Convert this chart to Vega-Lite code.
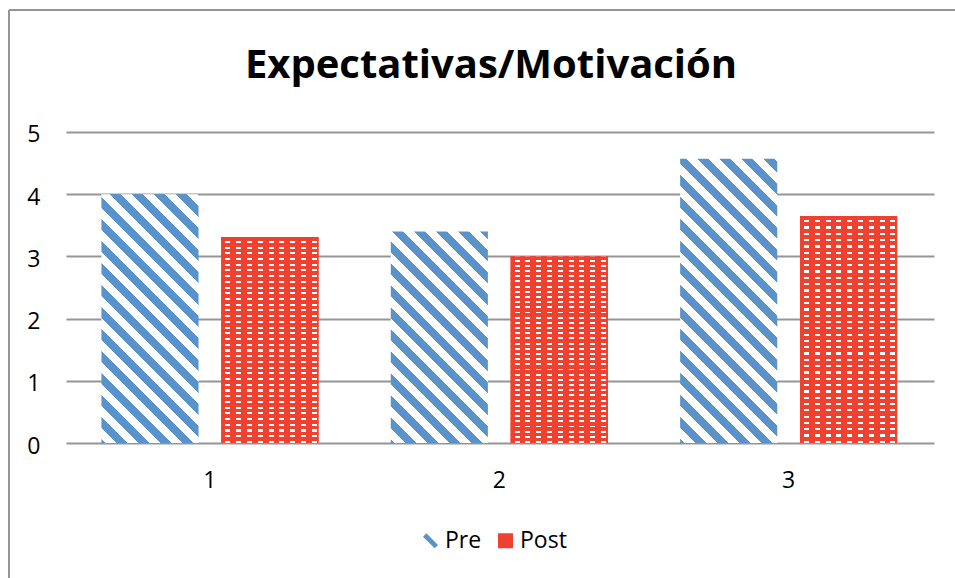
{
  "$schema": "https://vega.github.io/schema/vega-lite/v6.json",
  "autosize": {"type": "none"},
  "padding": {"left": 9, "top": 10, "right": 0, "bottom": 0},
  "width": 946,
  "height": 568,
  "background": "#FFFFFF",
  "config": {
    "font": "Open Sans",
    "view": {"stroke": "#959595", "strokeWidth": 2, "strokeDash": [946, 1514, 568, 0]}
  },
  "title": {
    "text": "Expectativas/Motivación",
    "font": "Open Sans",
    "fontSize": 40,
    "fontWeight": "bold",
    "color": "#000000",
    "anchor": "middle",
    "frame": "group",
    "baseline": "alphabetic",
    "offset": -108,
    "dx": 9
  },
  "data": {
    "values": [
      {"cat": "1", "series": "Pre", "value": 4.0},
      {"cat": "1", "series": "Post", "value": 3.31},
      {"cat": "2", "series": "Pre", "value": 3.4},
      {"cat": "2", "series": "Post", "value": 3.0},
      {"cat": "3", "series": "Pre", "value": 4.57},
      {"cat": "3", "series": "Post", "value": 3.65}
    ]
  },
  "encoding": {
    "x": {
      "field": "cat",
      "type": "nominal",
      "scale": {"paddingInner": 0.25, "paddingOuter": 0.2597, "align": 0.615},
      "axis": {
        "orient": "bottom",
        "offset": -135,
        "domain": false,
        "ticks": false,
        "grid": false,
        "labelPadding": 26,
        "labelFont": "Open Sans",
        "labelFontSize": 23,
        "labelColor": "#000000",
        "labelAngle": 0,
        "title": null
      }
    },
    "xOffset": {
      "field": "series",
      "type": "nominal",
      "sort": ["Pre", "Post"],
      "scale": {"domain": ["Pre", "Post"], "paddingInner": 0.19, "paddingOuter": 0}
    },
    "y": {
      "field": "value",
      "type": "quantitative",
      "scale": {"domain": [-2.1704, 6.9614], "nice": false, "zero": false},
      "axis": {
        "orient": "left",
        "offset": -57,
        "values": [0, 1, 2, 3, 4, 5],
        "domain": false,
        "grid": false,
        "ticks": true,
        "tickSize": -868,
        "tickColor": "#959595",
        "tickWidth": 2,
        "labelPadding": 894,
        "labelOffset": 3,
        "labelFont": "Open Sans",
        "labelFontSize": 23,
        "labelColor": "#000000",
        "labelAlign": "right",
        "labelBaseline": "middle",
        "labelFlush": false,
        "labelOverlap": false,
        "title": null,
        "zindex": 0
      }
    },
    "y2": {"datum": 0}
  },
  "layer": [
    {
      "transform": [{"filter": "datum.series === 'Post'"}],
      "mark": {"type": "bar"},
      "encoding": {
        "color": {
          "field": "series",
          "type": "nominal",
          "scale": {"domain": ["Pre", "Post"], "range": ["#5A93CB", "#EE4130"]},
          "legend": {
            "title": null,
            "orient": "none",
            "legendX": 410,
            "legendY": 519,
            "direction": "horizontal",
            "symbolSize": 225,
            "symbolStrokeWidth": 0,
            "labelFont": "Open Sans",
            "labelFontSize": 23,
            "labelColor": "#000000",
            "labelOffset": 3,
            "columnPadding": 12,
            "padding": 0,
            "values": ["Pre", "Post"],
            "encode": {
              "symbols": {
                "update": {
                  "shape": {"signal": "datum.value === 'Pre' ? 'M-1,-0.55L-0.55,-1L1,0.55L0.55,1Z' : 'square'"}
                }
              }
            }
          }
        }
      }
    },
    {
      "transform": [{"filter": "datum.series === 'Pre' && datum.cat === '1'"}],
      "mark": {
        "type": "bar",
        "fill": {
          "gradient": "linear", "x1": 0, "y1": 1, "x2": 0.4709, "y2": -0.2065,
          "stops": [
            {"offset": 0, "color": "#5A93CB"}, {"offset": 0.0116, "color": "#5A93CB"}, {"offset": 0.0116, "color": "#FFFFFF"}, {"offset": 0.0434, "color": "#FFFFFF"},
            {"offset": 0.0434, "color": "#5A93CB"}, {"offset": 0.0752, "color": "#5A93CB"}, {"offset": 0.0752, "color": "#FFFFFF"}, {"offset": 0.1070, "color": "#FFFFFF"},
            {"offset": 0.1070, "color": "#5A93CB"}, {"offset": 0.1388, "color": "#5A93CB"}, {"offset": 0.1388, "color": "#FFFFFF"}, {"offset": 0.1706, "color": "#FFFFFF"},
            {"offset": 0.1706, "color": "#5A93CB"}, {"offset": 0.2024, "color": "#5A93CB"}, {"offset": 0.2024, "color": "#FFFFFF"}, {"offset": 0.2342, "color": "#FFFFFF"},
            {"offset": 0.2342, "color": "#5A93CB"}, {"offset": 0.2660, "color": "#5A93CB"}, {"offset": 0.2660, "color": "#FFFFFF"}, {"offset": 0.2978, "color": "#FFFFFF"},
            {"offset": 0.2978, "color": "#5A93CB"}, {"offset": 0.3296, "color": "#5A93CB"}, {"offset": 0.3296, "color": "#FFFFFF"}, {"offset": 0.3614, "color": "#FFFFFF"},
            {"offset": 0.3614, "color": "#5A93CB"}, {"offset": 0.3932, "color": "#5A93CB"}, {"offset": 0.3932, "color": "#FFFFFF"}, {"offset": 0.4250, "color": "#FFFFFF"},
            {"offset": 0.4250, "color": "#5A93CB"}, {"offset": 0.4568, "color": "#5A93CB"}, {"offset": 0.4568, "color": "#FFFFFF"}, {"offset": 0.4886, "color": "#FFFFFF"},
            {"offset": 0.4886, "color": "#5A93CB"}, {"offset": 0.5204, "color": "#5A93CB"}, {"offset": 0.5204, "color": "#FFFFFF"}, {"offset": 0.5522, "color": "#FFFFFF"},
            {"offset": 0.5522, "color": "#5A93CB"}, {"offset": 0.5840, "color": "#5A93CB"}, {"offset": 0.5840, "color": "#FFFFFF"}, {"offset": 0.6158, "color": "#FFFFFF"},
            {"offset": 0.6158, "color": "#5A93CB"}, {"offset": 0.6476, "color": "#5A93CB"}, {"offset": 0.6476, "color": "#FFFFFF"}, {"offset": 0.6794, "color": "#FFFFFF"},
            {"offset": 0.6794, "color": "#5A93CB"}, {"offset": 0.7112, "color": "#5A93CB"}, {"offset": 0.7112, "color": "#FFFFFF"}, {"offset": 0.7430, "color": "#FFFFFF"},
            {"offset": 0.7430, "color": "#5A93CB"}, {"offset": 0.7748, "color": "#5A93CB"}, {"offset": 0.7748, "color": "#FFFFFF"}, {"offset": 0.8066, "color": "#FFFFFF"},
            {"offset": 0.8066, "color": "#5A93CB"}, {"offset": 0.8384, "color": "#5A93CB"}, {"offset": 0.8384, "color": "#FFFFFF"}, {"offset": 0.8702, "color": "#FFFFFF"},
            {"offset": 0.8702, "color": "#5A93CB"}, {"offset": 0.9020, "color": "#5A93CB"}, {"offset": 0.9020, "color": "#FFFFFF"}, {"offset": 0.9338, "color": "#FFFFFF"},
            {"offset": 0.9338, "color": "#5A93CB"}, {"offset": 0.9656, "color": "#5A93CB"}, {"offset": 0.9656, "color": "#FFFFFF"}, {"offset": 0.9974, "color": "#FFFFFF"},
            {"offset": 0.9974, "color": "#5A93CB"}, {"offset": 1, "color": "#5A93CB"}
          ]
        }
      }
    },
    {
      "transform": [{"filter": "datum.series === 'Pre' && datum.cat === '2'"}],
      "mark": {
        "type": "bar",
        "fill": {
          "gradient": "linear", "x1": 0, "y1": 1, "x2": 0.5533, "y2": -0.2051,
          "stops": [
            {"offset": 0, "color": "#5A93CB"}, {"offset": 0.0130, "color": "#5A93CB"}, {"offset": 0.0130, "color": "#FFFFFF"}, {"offset": 0.0486, "color": "#FFFFFF"},
            {"offset": 0.0486, "color": "#5A93CB"}, {"offset": 0.0843, "color": "#5A93CB"}, {"offset": 0.0843, "color": "#FFFFFF"}, {"offset": 0.1199, "color": "#FFFFFF"},
            {"offset": 0.1199, "color": "#5A93CB"}, {"offset": 0.1555, "color": "#5A93CB"}, {"offset": 0.1555, "color": "#FFFFFF"}, {"offset": 0.1912, "color": "#FFFFFF"},
            {"offset": 0.1912, "color": "#5A93CB"}, {"offset": 0.2268, "color": "#5A93CB"}, {"offset": 0.2268, "color": "#FFFFFF"}, {"offset": 0.2625, "color": "#FFFFFF"},
            {"offset": 0.2625, "color": "#5A93CB"}, {"offset": 0.2981, "color": "#5A93CB"}, {"offset": 0.2981, "color": "#FFFFFF"}, {"offset": 0.3338, "color": "#FFFFFF"},
            {"offset": 0.3338, "color": "#5A93CB"}, {"offset": 0.3694, "color": "#5A93CB"}, {"offset": 0.3694, "color": "#FFFFFF"}, {"offset": 0.4051, "color": "#FFFFFF"},
            {"offset": 0.4051, "color": "#5A93CB"}, {"offset": 0.4407, "color": "#5A93CB"}, {"offset": 0.4407, "color": "#FFFFFF"}, {"offset": 0.4763, "color": "#FFFFFF"},
            {"offset": 0.4763, "color": "#5A93CB"}, {"offset": 0.5120, "color": "#5A93CB"}, {"offset": 0.5120, "color": "#FFFFFF"}, {"offset": 0.5476, "color": "#FFFFFF"},
            {"offset": 0.5476, "color": "#5A93CB"}, {"offset": 0.5833, "color": "#5A93CB"}, {"offset": 0.5833, "color": "#FFFFFF"}, {"offset": 0.6189, "color": "#FFFFFF"},
            {"offset": 0.6189, "color": "#5A93CB"}, {"offset": 0.6546, "color": "#5A93CB"}, {"offset": 0.6546, "color": "#FFFFFF"}, {"offset": 0.6902, "color": "#FFFFFF"},
            {"offset": 0.6902, "color": "#5A93CB"}, {"offset": 0.7259, "color": "#5A93CB"}, {"offset": 0.7259, "color": "#FFFFFF"}, {"offset": 0.7615, "color": "#FFFFFF"},
            {"offset": 0.7615, "color": "#5A93CB"}, {"offset": 0.7971, "color": "#5A93CB"}, {"offset": 0.7971, "color": "#FFFFFF"}, {"offset": 0.8328, "color": "#FFFFFF"},
            {"offset": 0.8328, "color": "#5A93CB"}, {"offset": 0.8684, "color": "#5A93CB"}, {"offset": 0.8684, "color": "#FFFFFF"}, {"offset": 0.9041, "color": "#FFFFFF"},
            {"offset": 0.9041, "color": "#5A93CB"}, {"offset": 0.9397, "color": "#5A93CB"}, {"offset": 0.9397, "color": "#FFFFFF"}, {"offset": 0.9754, "color": "#FFFFFF"},
            {"offset": 0.9754, "color": "#5A93CB"}, {"offset": 1, "color": "#5A93CB"}
          ]
        }
      }
    },
    {
      "transform": [{"filter": "datum.series === 'Pre' && datum.cat === '3'"}],
      "mark": {
        "type": "bar",
        "fill": {
          "gradient": "linear", "x1": 0, "y1": 1, "x2": 0.4104, "y2": -0.2014,
          "stops": [
            {"offset": 0, "color": "#5A93CB"}, {"offset": 0.0105, "color": "#5A93CB"}, {"offset": 0.0105, "color": "#FFFFFF"}, {"offset": 0.0393, "color": "#FFFFFF"},
            {"offset": 0.0393, "color": "#5A93CB"}, {"offset": 0.0682, "color": "#5A93CB"}, {"offset": 0.0682, "color": "#FFFFFF"}, {"offset": 0.0970, "color": "#FFFFFF"},
            {"offset": 0.0970, "color": "#5A93CB"}, {"offset": 0.1259, "color": "#5A93CB"}, {"offset": 0.1259, "color": "#FFFFFF"}, {"offset": 0.1547, "color": "#FFFFFF"},
            {"offset": 0.1547, "color": "#5A93CB"}, {"offset": 0.1836, "color": "#5A93CB"}, {"offset": 0.1836, "color": "#FFFFFF"}, {"offset": 0.2124, "color": "#FFFFFF"},
            {"offset": 0.2124, "color": "#5A93CB"}, {"offset": 0.2413, "color": "#5A93CB"}, {"offset": 0.2413, "color": "#FFFFFF"}, {"offset": 0.2701, "color": "#FFFFFF"},
            {"offset": 0.2701, "color": "#5A93CB"}, {"offset": 0.2989, "color": "#5A93CB"}, {"offset": 0.2989, "color": "#FFFFFF"}, {"offset": 0.3278, "color": "#FFFFFF"},
            {"offset": 0.3278, "color": "#5A93CB"}, {"offset": 0.3566, "color": "#5A93CB"}, {"offset": 0.3566, "color": "#FFFFFF"}, {"offset": 0.3855, "color": "#FFFFFF"},
            {"offset": 0.3855, "color": "#5A93CB"}, {"offset": 0.4143, "color": "#5A93CB"}, {"offset": 0.4143, "color": "#FFFFFF"}, {"offset": 0.4432, "color": "#FFFFFF"},
            {"offset": 0.4432, "color": "#5A93CB"}, {"offset": 0.4720, "color": "#5A93CB"}, {"offset": 0.4720, "color": "#FFFFFF"}, {"offset": 0.5009, "color": "#FFFFFF"},
            {"offset": 0.5009, "color": "#5A93CB"}, {"offset": 0.5297, "color": "#5A93CB"}, {"offset": 0.5297, "color": "#FFFFFF"}, {"offset": 0.5586, "color": "#FFFFFF"},
            {"offset": 0.5586, "color": "#5A93CB"}, {"offset": 0.5874, "color": "#5A93CB"}, {"offset": 0.5874, "color": "#FFFFFF"}, {"offset": 0.6162, "color": "#FFFFFF"},
            {"offset": 0.6162, "color": "#5A93CB"}, {"offset": 0.6451, "color": "#5A93CB"}, {"offset": 0.6451, "color": "#FFFFFF"}, {"offset": 0.6739, "color": "#FFFFFF"},
            {"offset": 0.6739, "color": "#5A93CB"}, {"offset": 0.7028, "color": "#5A93CB"}, {"offset": 0.7028, "color": "#FFFFFF"}, {"offset": 0.7316, "color": "#FFFFFF"},
            {"offset": 0.7316, "color": "#5A93CB"}, {"offset": 0.7605, "color": "#5A93CB"}, {"offset": 0.7605, "color": "#FFFFFF"}, {"offset": 0.7893, "color": "#FFFFFF"},
            {"offset": 0.7893, "color": "#5A93CB"}, {"offset": 0.8182, "color": "#5A93CB"}, {"offset": 0.8182, "color": "#FFFFFF"}, {"offset": 0.8470, "color": "#FFFFFF"},
            {"offset": 0.8470, "color": "#5A93CB"}, {"offset": 0.8758, "color": "#5A93CB"}, {"offset": 0.8758, "color": "#FFFFFF"}, {"offset": 0.9047, "color": "#FFFFFF"},
            {"offset": 0.9047, "color": "#5A93CB"}, {"offset": 0.9335, "color": "#5A93CB"}, {"offset": 0.9335, "color": "#FFFFFF"}, {"offset": 0.9624, "color": "#FFFFFF"},
            {"offset": 0.9624, "color": "#5A93CB"}, {"offset": 0.9912, "color": "#5A93CB"}, {"offset": 0.9912, "color": "#FFFFFF"}, {"offset": 1, "color": "#FFFFFF"}
          ]
        }
      }
    },
    {
      "transform": [{"filter": "datum.series === 'Post'"}],
      "mark": {
        "type": "bar",
        "fill": {
          "gradient": "linear", "x1": 0, "y1": 0, "x2": 1, "y2": 0,
          "stops": [
            {"offset": 0, "color": "#EE4130"}, {"offset": 0.0412, "color": "#EE4130"}, {"offset": 0.0412, "color": "#FFFFFF"}, {"offset": 0.0927, "color": "#FFFFFF"},
            {"offset": 0.0927, "color": "#EE4130"}, {"offset": 0.1524, "color": "#EE4130"}, {"offset": 0.1524, "color": "#FFFFFF"}, {"offset": 0.2039, "color": "#FFFFFF"},
            {"offset": 0.2039, "color": "#EE4130"}, {"offset": 0.2636, "color": "#EE4130"}, {"offset": 0.2636, "color": "#FFFFFF"}, {"offset": 0.3151, "color": "#FFFFFF"},
            {"offset": 0.3151, "color": "#EE4130"}, {"offset": 0.3749, "color": "#EE4130"}, {"offset": 0.3749, "color": "#FFFFFF"}, {"offset": 0.4264, "color": "#FFFFFF"},
            {"offset": 0.4264, "color": "#EE4130"}, {"offset": 0.4861, "color": "#EE4130"}, {"offset": 0.4861, "color": "#FFFFFF"}, {"offset": 0.5376, "color": "#FFFFFF"},
            {"offset": 0.5376, "color": "#EE4130"}, {"offset": 0.5973, "color": "#EE4130"}, {"offset": 0.5973, "color": "#FFFFFF"}, {"offset": 0.6488, "color": "#FFFFFF"},
            {"offset": 0.6488, "color": "#EE4130"}, {"offset": 0.7085, "color": "#EE4130"}, {"offset": 0.7085, "color": "#FFFFFF"}, {"offset": 0.7600, "color": "#FFFFFF"},
            {"offset": 0.7600, "color": "#EE4130"}, {"offset": 0.8198, "color": "#EE4130"}, {"offset": 0.8198, "color": "#FFFFFF"}, {"offset": 0.8713, "color": "#FFFFFF"},
            {"offset": 0.8713, "color": "#EE4130"}, {"offset": 0.9310, "color": "#EE4130"}, {"offset": 0.9310, "color": "#FFFFFF"}, {"offset": 0.9825, "color": "#FFFFFF"},
            {"offset": 0.9825, "color": "#EE4130"}, {"offset": 1, "color": "#EE4130"}
          ]
        }
      }
    },
    {
      "transform": [{"filter": "datum.series === 'Post'"}],
      "mark": {
        "type": "bar",
        "fill": {
          "gradient": "linear", "x1": 0, "y1": 0, "x2": 0, "y2": 1,
          "stops": [
            {"offset": 0, "color": "#EE4130"}, {"offset": 0.0178, "color": "#EE4130"}, {"offset": 0.0178, "color": "rgba(255,255,255,0)"}, {"offset": 0.0278, "color": "rgba(255,255,255,0)"},
            {"offset": 0.0278, "color": "#EE4130"}, {"offset": 0.0456, "color": "#EE4130"}, {"offset": 0.0456, "color": "rgba(255,255,255,0)"}, {"offset": 0.0556, "color": "rgba(255,255,255,0)"},
            {"offset": 0.0556, "color": "#EE4130"}, {"offset": 0.0733, "color": "#EE4130"}, {"offset": 0.0733, "color": "rgba(255,255,255,0)"}, {"offset": 0.0833, "color": "rgba(255,255,255,0)"},
            {"offset": 0.0833, "color": "#EE4130"}, {"offset": 0.1011, "color": "#EE4130"}, {"offset": 0.1011, "color": "rgba(255,255,255,0)"}, {"offset": 0.1111, "color": "rgba(255,255,255,0)"},
            {"offset": 0.1111, "color": "#EE4130"}, {"offset": 0.1289, "color": "#EE4130"}, {"offset": 0.1289, "color": "rgba(255,255,255,0)"}, {"offset": 0.1389, "color": "rgba(255,255,255,0)"},
            {"offset": 0.1389, "color": "#EE4130"}, {"offset": 0.1567, "color": "#EE4130"}, {"offset": 0.1567, "color": "rgba(255,255,255,0)"}, {"offset": 0.1667, "color": "rgba(255,255,255,0)"},
            {"offset": 0.1667, "color": "#EE4130"}, {"offset": 0.1844, "color": "#EE4130"}, {"offset": 0.1844, "color": "rgba(255,255,255,0)"}, {"offset": 0.1944, "color": "rgba(255,255,255,0)"},
            {"offset": 0.1944, "color": "#EE4130"}, {"offset": 0.2122, "color": "#EE4130"}, {"offset": 0.2122, "color": "rgba(255,255,255,0)"}, {"offset": 0.2222, "color": "rgba(255,255,255,0)"},
            {"offset": 0.2222, "color": "#EE4130"}, {"offset": 0.2400, "color": "#EE4130"}, {"offset": 0.2400, "color": "rgba(255,255,255,0)"}, {"offset": 0.2500, "color": "rgba(255,255,255,0)"},
            {"offset": 0.2500, "color": "#EE4130"}, {"offset": 0.2678, "color": "#EE4130"}, {"offset": 0.2678, "color": "rgba(255,255,255,0)"}, {"offset": 0.2778, "color": "rgba(255,255,255,0)"},
            {"offset": 0.2778, "color": "#EE4130"}, {"offset": 0.2956, "color": "#EE4130"}, {"offset": 0.2956, "color": "rgba(255,255,255,0)"}, {"offset": 0.3056, "color": "rgba(255,255,255,0)"},
            {"offset": 0.3056, "color": "#EE4130"}, {"offset": 0.3233, "color": "#EE4130"}, {"offset": 0.3233, "color": "rgba(255,255,255,0)"}, {"offset": 0.3333, "color": "rgba(255,255,255,0)"},
            {"offset": 0.3333, "color": "#EE4130"}, {"offset": 0.3511, "color": "#EE4130"}, {"offset": 0.3511, "color": "rgba(255,255,255,0)"}, {"offset": 0.3611, "color": "rgba(255,255,255,0)"},
            {"offset": 0.3611, "color": "#EE4130"}, {"offset": 0.3789, "color": "#EE4130"}, {"offset": 0.3789, "color": "rgba(255,255,255,0)"}, {"offset": 0.3889, "color": "rgba(255,255,255,0)"},
            {"offset": 0.3889, "color": "#EE4130"}, {"offset": 0.4067, "color": "#EE4130"}, {"offset": 0.4067, "color": "rgba(255,255,255,0)"}, {"offset": 0.4167, "color": "rgba(255,255,255,0)"},
            {"offset": 0.4167, "color": "#EE4130"}, {"offset": 0.4344, "color": "#EE4130"}, {"offset": 0.4344, "color": "rgba(255,255,255,0)"}, {"offset": 0.4444, "color": "rgba(255,255,255,0)"},
            {"offset": 0.4444, "color": "#EE4130"}, {"offset": 0.4622, "color": "#EE4130"}, {"offset": 0.4622, "color": "rgba(255,255,255,0)"}, {"offset": 0.4722, "color": "rgba(255,255,255,0)"},
            {"offset": 0.4722, "color": "#EE4130"}, {"offset": 0.4900, "color": "#EE4130"}, {"offset": 0.4900, "color": "rgba(255,255,255,0)"}, {"offset": 0.5000, "color": "rgba(255,255,255,0)"},
            {"offset": 0.5000, "color": "#EE4130"}, {"offset": 0.5178, "color": "#EE4130"}, {"offset": 0.5178, "color": "rgba(255,255,255,0)"}, {"offset": 0.5278, "color": "rgba(255,255,255,0)"},
            {"offset": 0.5278, "color": "#EE4130"}, {"offset": 0.5456, "color": "#EE4130"}, {"offset": 0.5456, "color": "rgba(255,255,255,0)"}, {"offset": 0.5556, "color": "rgba(255,255,255,0)"},
            {"offset": 0.5556, "color": "#EE4130"}, {"offset": 0.5733, "color": "#EE4130"}, {"offset": 0.5733, "color": "rgba(255,255,255,0)"}, {"offset": 0.5833, "color": "rgba(255,255,255,0)"},
            {"offset": 0.5833, "color": "#EE4130"}, {"offset": 0.6011, "color": "#EE4130"}, {"offset": 0.6011, "color": "rgba(255,255,255,0)"}, {"offset": 0.6111, "color": "rgba(255,255,255,0)"},
            {"offset": 0.6111, "color": "#EE4130"}, {"offset": 0.6289, "color": "#EE4130"}, {"offset": 0.6289, "color": "rgba(255,255,255,0)"}, {"offset": 0.6389, "color": "rgba(255,255,255,0)"},
            {"offset": 0.6389, "color": "#EE4130"}, {"offset": 0.6567, "color": "#EE4130"}, {"offset": 0.6567, "color": "rgba(255,255,255,0)"}, {"offset": 0.6667, "color": "rgba(255,255,255,0)"},
            {"offset": 0.6667, "color": "#EE4130"}, {"offset": 0.6844, "color": "#EE4130"}, {"offset": 0.6844, "color": "rgba(255,255,255,0)"}, {"offset": 0.6944, "color": "rgba(255,255,255,0)"},
            {"offset": 0.6944, "color": "#EE4130"}, {"offset": 0.7122, "color": "#EE4130"}, {"offset": 0.7122, "color": "rgba(255,255,255,0)"}, {"offset": 0.7222, "color": "rgba(255,255,255,0)"},
            {"offset": 0.7222, "color": "#EE4130"}, {"offset": 0.7400, "color": "#EE4130"}, {"offset": 0.7400, "color": "rgba(255,255,255,0)"}, {"offset": 0.7500, "color": "rgba(255,255,255,0)"},
            {"offset": 0.7500, "color": "#EE4130"}, {"offset": 0.7678, "color": "#EE4130"}, {"offset": 0.7678, "color": "rgba(255,255,255,0)"}, {"offset": 0.7778, "color": "rgba(255,255,255,0)"},
            {"offset": 0.7778, "color": "#EE4130"}, {"offset": 0.7956, "color": "#EE4130"}, {"offset": 0.7956, "color": "rgba(255,255,255,0)"}, {"offset": 0.8056, "color": "rgba(255,255,255,0)"},
            {"offset": 0.8056, "color": "#EE4130"}, {"offset": 0.8233, "color": "#EE4130"}, {"offset": 0.8233, "color": "rgba(255,255,255,0)"}, {"offset": 0.8333, "color": "rgba(255,255,255,0)"},
            {"offset": 0.8333, "color": "#EE4130"}, {"offset": 0.8511, "color": "#EE4130"}, {"offset": 0.8511, "color": "rgba(255,255,255,0)"}, {"offset": 0.8611, "color": "rgba(255,255,255,0)"},
            {"offset": 0.8611, "color": "#EE4130"}, {"offset": 0.8789, "color": "#EE4130"}, {"offset": 0.8789, "color": "rgba(255,255,255,0)"}, {"offset": 0.8889, "color": "rgba(255,255,255,0)"},
            {"offset": 0.8889, "color": "#EE4130"}, {"offset": 0.9067, "color": "#EE4130"}, {"offset": 0.9067, "color": "rgba(255,255,255,0)"}, {"offset": 0.9167, "color": "rgba(255,255,255,0)"},
            {"offset": 0.9167, "color": "#EE4130"}, {"offset": 0.9344, "color": "#EE4130"}, {"offset": 0.9344, "color": "rgba(255,255,255,0)"}, {"offset": 0.9444, "color": "rgba(255,255,255,0)"},
            {"offset": 0.9444, "color": "#EE4130"}, {"offset": 0.9622, "color": "#EE4130"}, {"offset": 0.9622, "color": "rgba(255,255,255,0)"}, {"offset": 0.9722, "color": "rgba(255,255,255,0)"},
            {"offset": 0.9722, "color": "#EE4130"}, {"offset": 0.9900, "color": "#EE4130"}, {"offset": 0.9900, "color": "rgba(255,255,255,0)"}, {"offset": 1, "color": "rgba(255,255,255,0)"}
          ]
        }
      }
    }
  ]
}
